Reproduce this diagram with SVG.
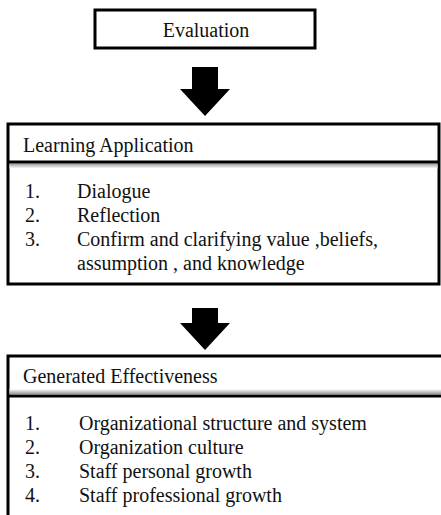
<svg xmlns="http://www.w3.org/2000/svg" width="441" height="515" viewBox="0 0 441 515">
<defs>
<style>
text{font-family:'Liberation Serif','Times New Roman','DejaVu Serif',serif;font-size:20px;fill:#111}
.box{fill:#fff;stroke:#000;stroke-width:3}
.div{stroke:#000;stroke-width:3}
.arr{fill:#000}
</style>
<linearGradient id="shB" x1="0" y1="0" x2="0" y2="1"><stop offset="0" stop-color="#999"/><stop offset="1" stop-color="#fff"/></linearGradient>
<linearGradient id="shA" x1="0" y1="1" x2="0" y2="0"><stop offset="0" stop-color="#999"/><stop offset="1" stop-color="#fff"/></linearGradient>
</defs>
<rect width="441" height="515" fill="#fff"/>
<g id="evaluation">
<rect class="box" x="95" y="10" width="220" height="38"/>
<text x="206" y="37" text-anchor="middle" font-family="Liberation Serif, serif">Evaluation</text>
</g>
<g id="learning" font-family="Liberation Serif, serif">
<rect class="box" x="8" y="124" width="431" height="160"/>
<rect x="9.5" y="163.5" width="428" height="5" fill="url(#shB)"/>
<line class="div" x1="8" y1="162" x2="439" y2="162"/>
<text x="23" y="152">Learning Application</text>
<text x="25" y="198">1.</text><text x="77" y="198">Dialogue</text>
<text x="25" y="222">2.</text><text x="77" y="222">Reflection</text>
<text x="25" y="246">3.</text><text x="77" y="246">Confirm and clarifying value ,beliefs,</text>
<text x="77" y="270">assumption , and knowledge</text>
</g>
<g id="effectiveness" font-family="Liberation Serif, serif">
<rect class="box" x="8" y="356" width="440" height="170"/>
<rect x="9.5" y="389" width="432" height="5" fill="url(#shA)"/>
<line class="div" x1="8" y1="396" x2="441" y2="396"/>
<text x="23" y="383">Generated Effectiveness</text>
<text x="25" y="430">1.</text><text x="79" y="430">Organizational structure and system</text>
<text x="25" y="454">2.</text><text x="79" y="454">Organization culture</text>
<text x="25" y="478">3.</text><text x="79" y="478">Staff personal growth</text>
<text x="25" y="502">4.</text><text x="79" y="502">Staff professional growth</text>
</g>
<g id="connectors">
<polygon class="arr" points="192,67 218,67 218,89 230,89 205,116 180,89 192,89"/>
<polygon class="arr" points="192,308 218,308 218,323 230,323 205,350 180,323 192,323"/>
</g>
</svg>
